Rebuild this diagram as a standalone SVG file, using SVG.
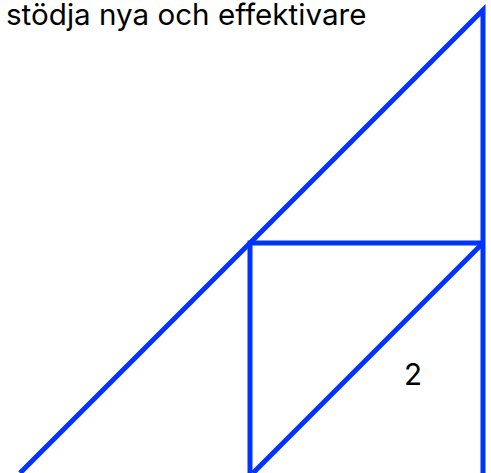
<svg xmlns="http://www.w3.org/2000/svg" width="491" height="473" viewBox="0 0 491 473">
<style>
.ln{fill:none;stroke:#0033ff;stroke-width:5;stroke-linejoin:miter}
.t{font-family:Inter,"Liberation Sans",sans-serif;font-size:29.6px;fill:#000}
</style>
<rect width="491" height="473" fill="#fff"/>
<g id="label-top"><text class="t" x="6" y="24.5">stödja nya och effektivare</text></g>
<g id="connectors">
<polyline class="ln" points="20,473 483,10 483,473"/>
<polyline class="ln" points="250,473 250,243 483,243"/>
<line class="ln" x1="253" y1="473" x2="483" y2="243"/>
</g>
<g id="label-2"><text class="t" x="404" y="385">2</text></g>
</svg>
